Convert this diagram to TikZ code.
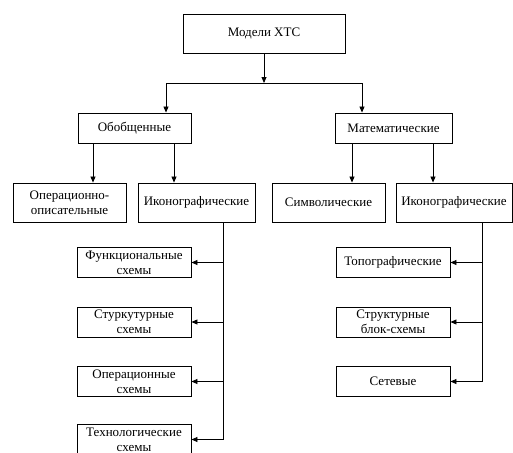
\documentclass[tikz,border=0pt]{standalone}
\usepackage{fontspec}
\setmainfont{Liberation Serif}
\newfontfamily\schemefont{Liberation Serif}
\usetikzlibrary{arrows.meta,positioning}

\begin{document}
\begin{tikzpicture}[x=1pt,y=-1pt,
    box/.style={draw, line width=0.9pt, align=center, inner sep=1pt,
      font=\schemefont\fontsize{13}{15}\selectfont},
    arr/.style={-{Triangle[length=6pt,width=5pt]}, line width=0.8pt}]
  \useasboundingbox (0,0) rectangle (513,452);

  \node[box, minimum width=162pt, minimum height=39pt] (xtc) at (264,33.5) {Модели ХТС};
  \node[box, minimum width=113pt, minimum height=30pt] (gen) at (134.5,128) {Обобщенные};
  \node[box, minimum width=117pt, minimum height=30pt] (math) at (393.5,128) {Математические};

  \node[box, minimum width=113pt, minimum height=39pt] (opis) at (69.5,202.5) {Операционно-\\описательные};
  \node[box, minimum width=117pt, minimum height=39pt] (icoL) at (196.5,202.5) {Иконографические};
  \node[box, minimum width=113pt, minimum height=39pt] (sym) at (328.5,202.5) {Символические};
  \node[box, minimum width=116pt, minimum height=39pt] (icoR) at (454,202.5) {Иконографические};

  % left column
  \node[box, minimum width=114pt, minimum height=30pt] (func) at (134,262.5) {Функциональные\\схемы};
  \node[box, minimum width=114pt, minimum height=30pt, below of=func, node distance=59.5pt] (struct) {Стуркутурные\\схемы};
  \node[box, minimum width=114pt, minimum height=30pt, below of=struct, node distance=59.5pt] (oper) {Операционные\\схемы};
  \node[box, minimum width=114pt, minimum height=30pt, below of=oper, node distance=58pt] (tech) {Технологические\\схемы};

  % right column
  \node[box, minimum width=114pt, minimum height=30pt, right of=func, node distance=259pt] (topo) {Топографические};
  \node[box, minimum width=114pt, minimum height=30pt, below of=topo, node distance=59.5pt] (block) {Структурные\\блок-схемы};
  \node[box, minimum width=114pt, minimum height=30pt, below of=block, node distance=59.5pt] (net) {Сетевые};

  \coordinate (split) at (264,83);
  \draw[arr] (xtc) -- (split);
  \draw[arr] (split) -| ([xshift=31.5pt]gen.north);
  \draw[arr] (split) -| ([xshift=-31.5pt]math.north);

  \draw[arr] ([xshift=-41.5pt]gen.south) -- ([xshift=-41.5pt]gen.south |- opis.north);
  \draw[arr] ([xshift=39.5pt]gen.south) -- ([xshift=39.5pt]gen.south |- icoL.north);
  \draw[arr] ([xshift=-41.5pt]math.south) -- ([xshift=-41.5pt]math.south |- sym.north);
  \draw[arr] ([xshift=39.5pt]math.south) -- ([xshift=39.5pt]math.south |- icoR.north);

  \coordinate (trunkL) at ([xshift=26.5pt]icoL.south);
  \draw[line width=0.8pt] (trunkL) -- (trunkL |- tech.east);
  \foreach \n in {func,struct,oper,tech}
    \draw[arr] (trunkL |- \n.east) -- (\n.east);

  \coordinate (trunkR) at ([xshift=28pt]icoR.south);
  \draw[line width=0.8pt] (trunkR) -- (trunkR |- net.east);
  \foreach \n in {topo,block,net}
    \draw[arr] (trunkR |- \n.east) -- (\n.east);
\end{tikzpicture}
\end{document}
